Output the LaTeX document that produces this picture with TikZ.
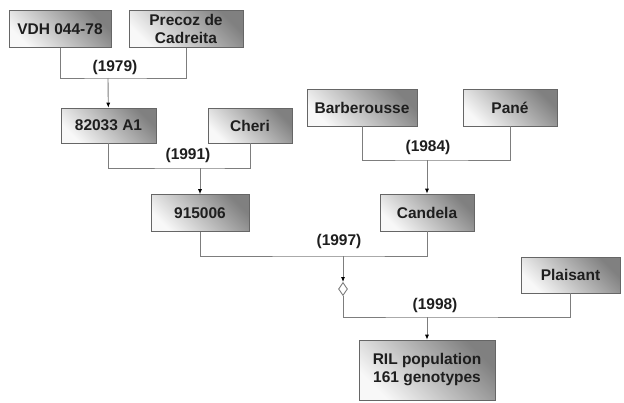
\documentclass[tikz,border=0pt]{standalone}
\usepackage{fontspec}
\setmainfont{Liberation Sans}
\usetikzlibrary{
  arrows.meta,
  shapes.geometric
}
\definecolor{boxdark}{RGB}{128,128,128}
\definecolor{boxlight}{RGB}{248,248,248}
\definecolor{wire}{RGB}{125,125,125}
\definecolor{ink}{RGB}{30,30,30}

\begin{document}
\begin{tikzpicture}[
  x=1pt, y=-1pt,
  every node/.style={font=\fontsize{15.5}{18}\selectfont\bfseries, text=ink},
  line/.style={draw=wire, line width=0.9pt},
  cross/.style={line, -{Latex[length=5pt,width=4pt,color=black]}},
  parent/.style={draw=black!60, line width=0.6pt, top color=boxdark, bottom color=boxlight,
                 shading angle=-45, minimum height=37pt, inner sep=0pt, align=center},
  year/.style={inner sep=1pt},
  mixdia/.style={diamond, draw=wire, fill=white, line width=0.9pt, inner sep=0pt,
                 minimum width=9pt, minimum height=13pt}
]
\useasboundingbox (0,0) rectangle (624,402);

% parents
\node[parent, minimum width=102pt] (vdh) at (60,29) {VDH 044-78};
\node[parent, minimum width=114pt] (precoz) at (186,29) {Precoz de\\Cadreita};
\node[parent, minimum width=95pt, minimum height=35pt] (a1) at (108.5,125.5) {82033 A1};
\node[parent, minimum width=84pt, minimum height=35pt] (cheri) at (250,125.5) {Cheri};
\node[parent, minimum width=110pt] (barb) at (362,107.5) {Barberousse};
\node[parent, minimum width=94pt] (pane) at (510,107.5) {Pané};
\node[parent, minimum width=98pt] (f915) at (200,213) {915006};
\node[parent, minimum width=94pt] (candela) at (427,212.5) {Candela};
\node[parent, minimum width=99pt, minimum height=36pt] (plaisant) at (570.5,275) {Plaisant};
\node[parent, minimum width=136pt, minimum height=60pt] (ril) at (427,370) {RIL population\\161 genotypes};

% crossing points
\coordinate (x1979) at (108,78);
\coordinate (x1991) at (200,168);
\coordinate (x1984) at (427,160);
\coordinate (x1997) at (343,256);
\coordinate (x1998) at (427,317);
\node[mixdia] (mix) at (343,289) {};

% crosses
\draw[line] (vdh.south) |- (x1979) -| (precoz.south);
\draw[cross] (x1979) -- (a1);
\node[year] (y1979) at (115,67) {(1979)};

\draw[line] (a1.south) |- (x1991) -| (cheri.south);
\draw[cross] (x1991) -- (f915);
\node[year] (y1991) at (188,155) {(1991)};

\draw[line] (barb.south) |- (x1984) -| (pane.south);
\draw[cross] (x1984) -- (candela);
\node[year] (y1984) at (428,147) {(1984)};

\draw[line] (f915.south) |- (x1997) -| (candela.south);
\draw[cross] (x1997) -- (mix.north);
\node[year] (y1997) at (339,241) {(1997)};

\draw[line] (mix.south) |- (x1998) -| (plaisant.south);
\draw[cross] (x1998) -- (ril);
\node[year] (y1998) at (435,305) {(1998)};

\end{tikzpicture}
\end{document}
